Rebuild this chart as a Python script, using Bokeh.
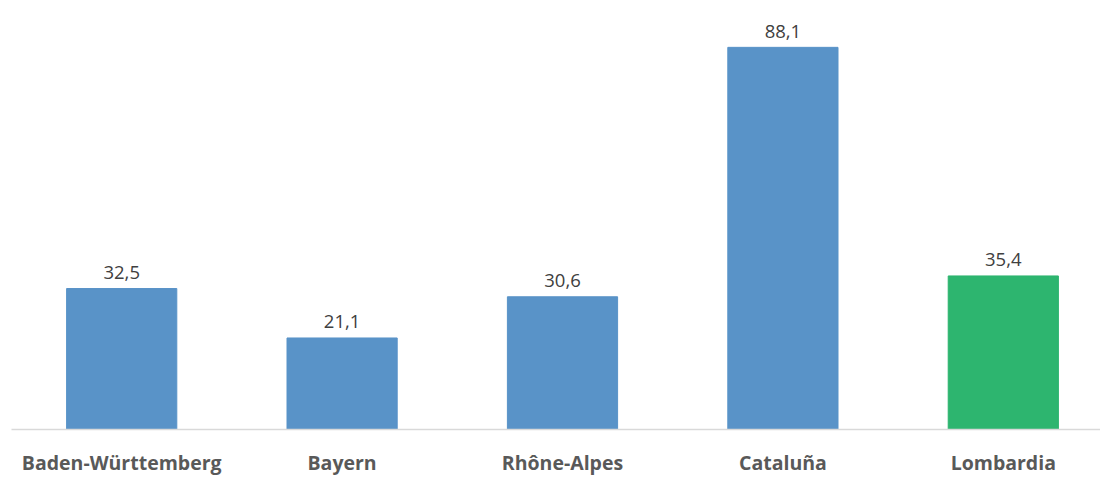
from bokeh.plotting import figure
from bokeh.models import ColumnDataSource, Range1d, FixedTicker
from bokeh.core.properties import value
from bokeh.embed import file_html
from bokeh.resources import INLINE

categories = ["Baden-Württemberg", "Bayern", "Rhône-Alpes", "Cataluña", "Lombardia"]
values = [32.5, 21.1, 30.6, 88.1, 35.4]
colors = ["#5993C8", "#5993C8", "#5993C8", "#5993C8", "#2DB56F"]
labels = [f"{v:.1f}".replace(".", ",") for v in values]
xs = list(range(len(categories)))

src = ColumnDataSource(dict(x=xs, top=values, color=colors, label=labels))

p = figure(width=1100, height=478, output_backend="svg", toolbar_location=None,
           x_range=Range1d(-0.5, 4.441), y_range=Range1d(0, 98.9),
           min_border_left=11, min_border_right=0, min_border_top=0, min_border_bottom=48)
p.outline_line_color = None
p.grid.visible = False
p.yaxis.visible = False
p.background_fill_color = "white"
p.border_fill_color = "white"

p.vbar(x="x", top="top", width=0.5, bottom=0, color="color", source=src)
p.text(x="x", y="top", text="label", source=src, text_align="center",
       text_baseline="alphabetic", y_offset=-16, text_font=value("Open Sans"),
       text_font_size="18.5px", text_color="#404040")

ax = p.xaxis[0]
ax.ticker = FixedTicker(ticks=xs)
ax.major_label_overrides = {i: c for i, c in enumerate(categories)}
ax.axis_line_color = "#D9D9D9"
ax.axis_line_width = 1.5
ax.major_tick_line_color = None
ax.minor_tick_line_color = None
ax.major_tick_out = 0
ax.major_tick_in = 0
ax.major_label_standoff = 19
ax.major_label_text_font = "Open Sans"
ax.major_label_text_font_style = "bold"
ax.major_label_text_font_size = "19.5px"
ax.major_label_text_color = "#595959"

open("out.html", "w").write(file_html(p, INLINE))
